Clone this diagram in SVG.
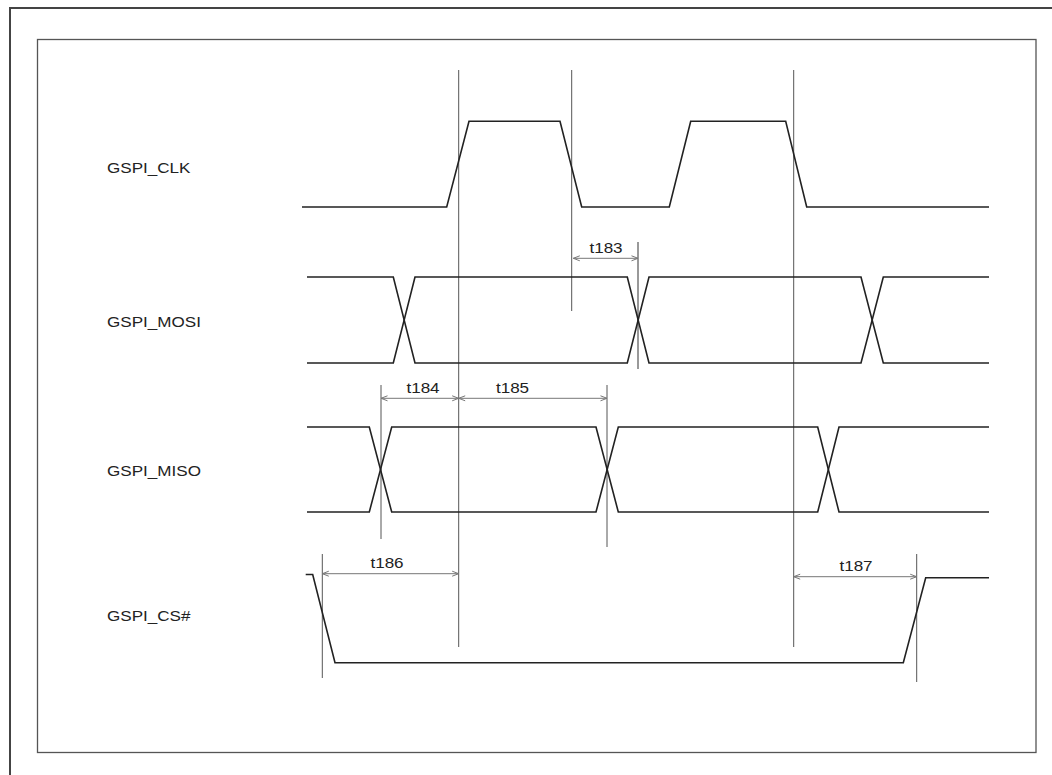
<svg xmlns="http://www.w3.org/2000/svg" width="1052" height="775" viewBox="0 0 1052 775">
<defs>
<marker id="ah" viewBox="0 0 8 8" refX="7.5" refY="4" markerWidth="8" markerHeight="8" markerUnits="userSpaceOnUse" orient="auto-start-reverse">
<path d="M1,1.5 L7.5,4 L1,6.5" fill="none" stroke="#777" stroke-width="1"/>
</marker>
</defs>
<style>
.sig{fill:none;stroke:#222;stroke-width:1.6;stroke-linejoin:miter}
.guide{stroke:#555;stroke-width:1}
.guide2{stroke:#999;stroke-width:2}
.dim{stroke:#777;stroke-width:1;fill:none;marker-start:url(#ah);marker-end:url(#ah)}
.lbl{font-family:"Liberation Sans",Arial,sans-serif;font-size:14px;fill:#222}
.tl{font-family:"Liberation Sans",Arial,sans-serif;font-size:14px;fill:#222;text-anchor:middle}
</style>
<rect width="1052" height="775" fill="#fff"/>
<g id="frame">
<path d="M10,776 V8 H1053" fill="none" stroke="#444" stroke-width="2"/>
<rect x="37.5" y="39.5" width="998.5" height="713" fill="none" stroke="#555" stroke-width="1.3"/>
</g>
<g id="labels">
<text class="lbl" transform="translate(107,173) scale(1.22,1)">GSPI_CLK</text>
<text class="lbl" transform="translate(107,327) scale(1.22,1)">GSPI_MOSI</text>
<text class="lbl" transform="translate(107,476) scale(1.22,1)">GSPI_MISO</text>
<text class="lbl" transform="translate(107,621) scale(1.22,1)">GSPI_CS#</text>
</g>
<g id="guides">
<line class="guide" x1="458.7" y1="70" x2="458.7" y2="647"/>
<line class="guide" x1="571.7" y1="70" x2="571.7" y2="311"/>
<line class="guide" x1="793.7" y1="70" x2="793.7" y2="647"/>
<line class="guide2" x1="638" y1="242" x2="638" y2="369"/>
<line class="guide" x1="381" y1="385" x2="381" y2="539"/>
<line class="guide" x1="607" y1="385" x2="607" y2="547"/>
<line class="guide" x1="322.3" y1="554" x2="322.3" y2="678"/>
<line class="guide" x1="916.7" y1="554" x2="916.7" y2="682"/>
</g>
<g id="GSPI_CLK">
<path class="sig" d="M302,207 H446.7 L469,121.3 H560 L581.7,207 H669.3 L690.7,121.3 H785.7 L806.7,207 H989"/>
</g>
<g id="GSPI_MOSI">
<path class="sig" d="M307,277 H393.3 L415,363 H627.3 L649,277 H861 L883.3,363 H989"/>
<path class="sig" d="M307,363 H393.3 L415,277 H627.3 L649,363 H861 L883.3,277 H989"/>
</g>
<g id="GSPI_MISO">
<path class="sig" d="M307,427 H369.3 L391.7,512 H596 L618.3,427 H817.7 L839,512 H989"/>
<path class="sig" d="M307,512 H369.3 L391.7,427 H596 L618.3,512 H817.7 L839,427 H989"/>
</g>
<g id="GSPI_CS">
<path class="sig" d="M305.7,574.5 H312.7 L335,662.7 H903.3 L925.7,577.7 H989"/>
</g>
<g id="connectors">
<line class="dim" x1="573.3" y1="258.3" x2="638" y2="258.3"/>
<line class="dim" x1="381" y1="398.3" x2="458.7" y2="398.3"/>
<line class="dim" x1="458.7" y1="398.3" x2="607" y2="398.3"/>
<line class="dim" x1="322.3" y1="573.7" x2="458.7" y2="573.7"/>
<line class="dim" x1="793.7" y1="576.7" x2="916.7" y2="576.7"/>
</g>
<g id="timing-labels">
<text class="tl" transform="translate(606,253) scale(1.22,1)">t183</text>
<text class="tl" transform="translate(423,393) scale(1.22,1)">t184</text>
<text class="tl" transform="translate(512.5,393) scale(1.22,1)">t185</text>
<text class="tl" transform="translate(387,568) scale(1.22,1)">t186</text>
<text class="tl" transform="translate(856,571) scale(1.22,1)">t187</text>
</g>
</svg>
